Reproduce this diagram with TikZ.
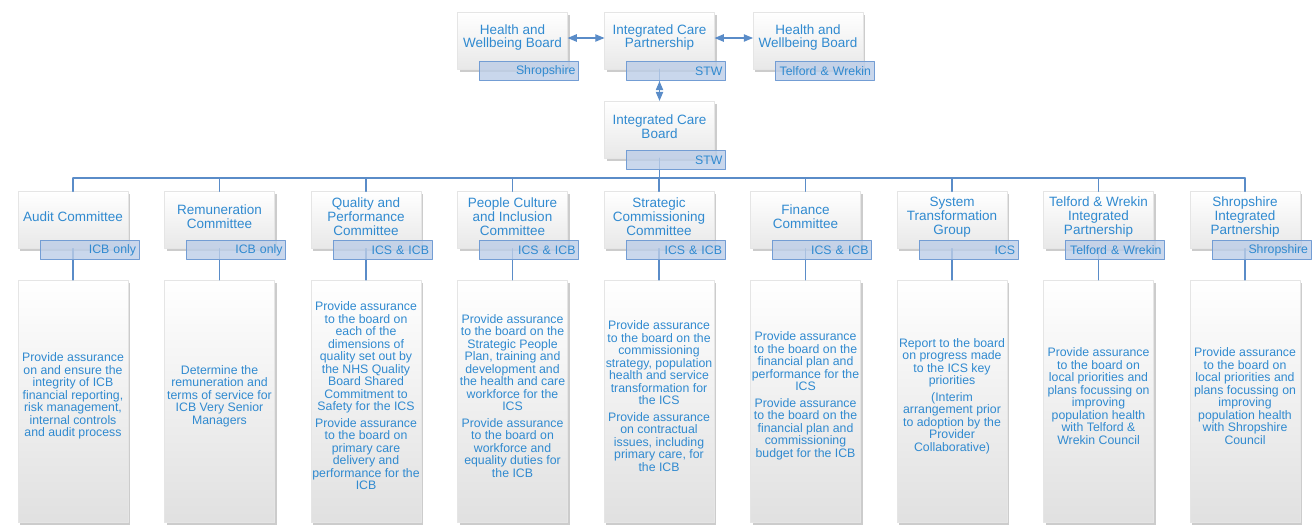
\documentclass[tikz,border=0pt]{standalone}
\usepackage{fontspec}
\setmainfont{Liberation Sans}
\usetikzlibrary{arrows,shadows}
\definecolor{nhsblue}{RGB}{48,138,208}
\definecolor{linkblue}{RGB}{90,140,200}
\definecolor{tagfill}{RGB}{188,205,231}
\definecolor{tagline}{RGB}{115,157,212}
\tikzset{
  titlebox/.style={draw=gray!20,line width=0.3pt,top color=white,bottom color=gray!18,
    drop shadow={shadow xshift=2pt,shadow yshift=-2.5pt,opacity=0.4},
    minimum width=110pt,minimum height=57pt,inner sep=0pt},
  titletext/.style={text=nhsblue,align=center,font=\fontsize{13.5}{13.9}\selectfont,yshift=3pt},
  descbox/.style={draw=gray!20,line width=0.3pt,top color=white,middle color=white,bottom color=gray!24,
    drop shadow={shadow xshift=2pt,shadow yshift=-2.5pt,opacity=0.4},
    minimum width=110pt,minimum height=242pt,inner sep=0pt},
  desctext/.style={text=nhsblue,align=center,font=\fontsize{12.3}{12.5}\selectfont,yshift=5pt,inner sep=0pt},
  tagbox/.style={draw=tagline,line width=0.9pt,fill=tagfill,fill opacity=0.8,text opacity=1,text=nhsblue,
    font=\fontsize{12.3}{13}\selectfont,minimum height=19pt,text width=93pt,align=right,inner xsep=3pt,inner ysep=0pt},
  link/.style={draw=linkblue,line width=1.3pt}
}
\begin{document}
\begin{tikzpicture}[line cap=round,line join=round,>=triangle 45,x=1pt,y=-1pt]
  \useasboundingbox (0,0) rectangle (1316,525);
  \node[titlebox,label={[titletext]center:Health and\\Wellbeing Board}] (hwbs) at (512.5,40.5) {};
  \node[titlebox,label={[titletext]center:Integrated Care\\Partnership}] (icp) at (659.5,40.5) {};
  \node[titlebox,label={[titletext]center:Health and\\Wellbeing Board}] (hwbt) at (808,40.5) {};
  \node[titlebox,label={[titletext]center:Integrated Care\\Board}] (icb) at (659.5,129.5) {};
  \node[titlebox,label={[titletext]center:Audit Committee}] (audit) at (73,220) {};
  \node[titlebox,label={[titletext]center:Remuneration\\Committee}] (remun) at (219.5,220) {};
  \node[titlebox,label={[titletext]center:Quality and\\Performance\\Committee}] (quality) at (366,220) {};
  \node[titlebox,label={[titletext]center:People Culture\\and Inclusion\\Committee}] (people) at (512.5,220) {};
  \node[titlebox,label={[titletext]center:Strategic\\Commissioning\\Committee}] (strat) at (659,220) {};
  \node[titlebox,label={[titletext]center:Finance\\Committee}] (finance) at (805.5,220) {};
  \node[titlebox,label={[titletext]center:System\\Transformation\\Group}] (system) at (952,220) {};
  \node[titlebox,label={[titletext]center:Telford \& Wrekin\\Integrated\\Partnership}] (twip) at (1098.5,220) {};
  \node[titlebox,label={[titletext]center:Shropshire\\Integrated\\Partnership}] (ship) at (1245,220) {};
  \node[descbox,label={[desctext]center:{Provide assurance\\on and ensure the\\integrity of ICB\\financial reporting,\\risk management,\\internal controls\\and audit process}}] (auditd) at (73,401) {};
  \node[descbox,label={[desctext]center:{Determine the\\remuneration and\\terms of service for\\ICB Very Senior\\Managers}}] (remund) at (219.5,401) {};
  \node[descbox,label={[desctext]center:{Provide assurance\\to the board on\\each of the\\dimensions of\\quality set out by\\the NHS Quality\\Board Shared\\Commitment to\\Safety for the ICS\\[4pt]Provide assurance\\to the board on\\primary care\\delivery and\\performance for the\\ICB}}] (qualityd) at (366,401) {};
  \node[descbox,label={[desctext]center:{Provide assurance\\to the board on the\\Strategic People\\Plan, training and\\development and\\the health and care\\workforce for the\\ICS\\[4pt]Provide assurance\\to the board on\\workforce and\\equality duties for\\the ICB}}] (peopled) at (512.5,401) {};
  \node[descbox,label={[desctext]center:{Provide assurance\\to the board on the\\commissioning\\strategy, population\\health and service\\transformation for\\the ICS\\[4pt]Provide assurance\\on contractual\\issues, including\\primary care, for\\the ICB}}] (stratd) at (659,401) {};
  \node[descbox,label={[desctext]center:{Provide assurance\\to the board on the\\financial plan and\\performance for the\\ICS\\[4pt]Provide assurance\\to the board on the\\financial plan and\\commissioning\\budget for the ICB}}] (financed) at (805.5,401) {};
  \node[descbox,label={[desctext]center:{Report to the board\\on progress made\\to the ICS key\\priorities\\[4pt](Interim\\arrangement prior\\to adoption by the\\Provider\\Collaborative)}}] (systemd) at (952,401) {};
  \node[descbox,label={[desctext]center:{Provide assurance\\to the board on\\local priorities and\\plans focussing on\\improving\\population health\\with Telford \&\\Wrekin Council}}] (twipd) at (1098.5,401) {};
  \node[descbox,label={[desctext]center:{Provide assurance\\to the board on\\local priorities and\\plans focussing on\\improving\\population health\\with Shropshire\\Council}}] (shipd) at (1245,401) {};
  \coordinate (busl) at (73,178);
  \coordinate (busr) at (1245,178);
  \draw[link] (busl) -- (busr);
  \draw[link] (icb.south) -- (icb.south |- busl);
  \draw[link] (audit.north |- busl) -- (audit.north);
  \draw[link] (remun.north |- busl) -- (remun.north);
  \draw[link] (quality.north |- busl) -- (quality.north);
  \draw[link] (people.north |- busl) -- (people.north);
  \draw[link] (strat.north |- busl) -- (strat.north);
  \draw[link] (finance.north |- busl) -- (finance.north);
  \draw[link] (system.north |- busl) -- (system.north);
  \draw[link] (twip.north |- busl) -- (twip.north);
  \draw[link] (ship.north |- busl) -- (ship.north);
  \draw[link] (audit.south) -- (auditd.north);
  \draw[link] (remun.south) -- (remund.north);
  \draw[link] (quality.south) -- (qualityd.north);
  \draw[link] (people.south) -- (peopled.north);
  \draw[link] (strat.south) -- (stratd.north);
  \draw[link] (finance.south) -- (financed.north);
  \draw[link] (system.south) -- (systemd.north);
  \draw[link] (twip.south) -- (twipd.north);
  \draw[link] (ship.south) -- (shipd.north);
  \draw[link] (icp.south) -- ([yshift=-12pt]icp.south);
  \draw[link,line width=1.1pt,<->] ([yshift=2.5pt]hwbs.east) -- ([yshift=2.5pt]icp.west);
  \draw[link,line width=1.1pt,<->] ([yshift=2.5pt]icp.east) -- ([yshift=2.5pt]hwbt.west);
  \draw[link,line width=1.1pt,<->] ([yshift=-12pt]icp.south) -- (icb.north);
  \node[tagbox] (hwbst) at ([xshift=16.5pt,yshift=-2pt]hwbs.south) {Shropshire};
  \node[tagbox] (icpt) at ([xshift=16.5pt,yshift=-2pt]icp.south) {STW};
  \node[tagbox] (hwbtt) at ([xshift=16.5pt,yshift=-2pt]hwbt.south) {Telford \& Wrekin};
  \node[tagbox] (icbt) at ([xshift=16.5pt,yshift=-2pt]icb.south) {STW};
  \node[tagbox] (auditt) at ([xshift=16.5pt,yshift=-1.5pt]audit.south) {ICB only};
  \node[tagbox] (remunt) at ([xshift=16.5pt,yshift=-1.5pt]remun.south) {ICB only};
  \node[tagbox] (qualityt) at ([xshift=16.5pt,yshift=-1.5pt]quality.south) {ICS \& ICB};
  \node[tagbox] (peoplet) at ([xshift=16.5pt,yshift=-1.5pt]people.south) {ICS \& ICB};
  \node[tagbox] (stratt) at ([xshift=16.5pt,yshift=-1.5pt]strat.south) {ICS \& ICB};
  \node[tagbox] (financet) at ([xshift=16.5pt,yshift=-1.5pt]finance.south) {ICS \& ICB};
  \node[tagbox] (systemt) at ([xshift=16.5pt,yshift=-1.5pt]system.south) {ICS};
  \node[tagbox] (twipt) at ([xshift=16.5pt,yshift=-1.5pt]twip.south) {Telford \& Wrekin};
  \node[tagbox] (shipt) at ([xshift=16.5pt,yshift=-1.5pt]ship.south) {Shropshire};
\end{tikzpicture}
\end{document}
